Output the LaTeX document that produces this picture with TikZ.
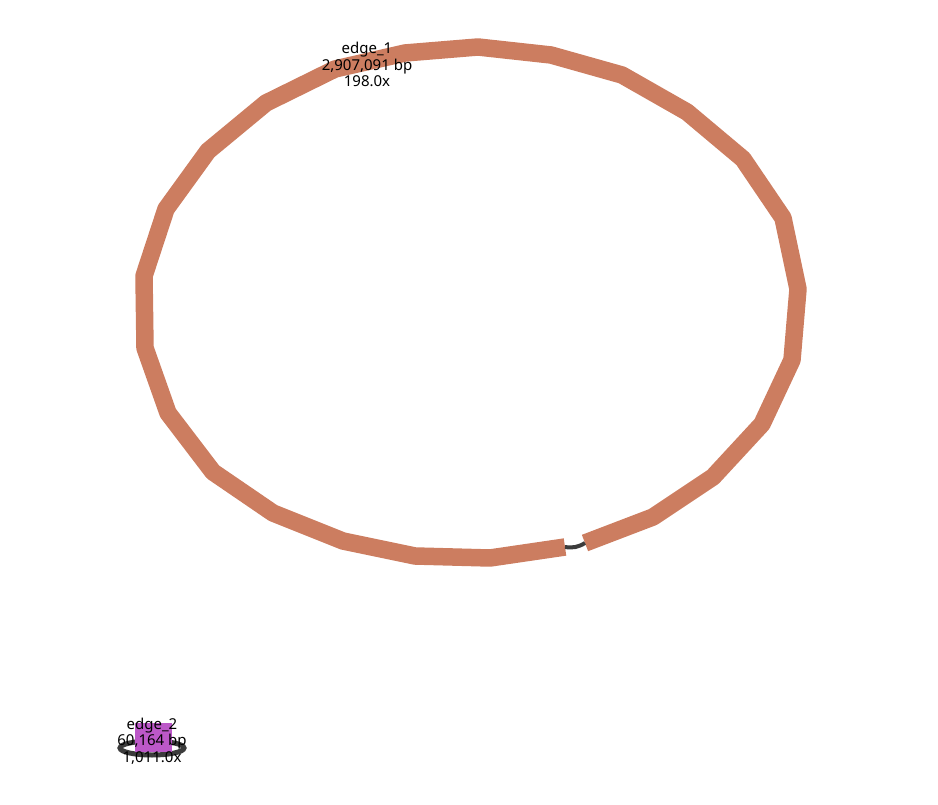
\documentclass[tikz,border=0pt]{standalone}
\usepackage{fontspec}
\setmainfont{Noto Sans}
\definecolor{edgeone}{RGB}{204,125,96}
\definecolor{edgetwo}{RGB}{188,88,200}
\definecolor{conn}{RGB}{60,60,60}
\begin{document}
\begin{tikzpicture}[x=1pt,y=-1pt,
  contig/.style={line width=17.5pt,draw=edgeone,line join=bevel,line cap=butt},
  link/.style={line width=4pt,draw=conn},
  lbl/.style={font=\fontsize{15}{16.5}\selectfont,align=center,inner sep=0pt}]
\useasboundingbox (0,0) rectangle (938,805);
\coordinate (e1out) at (565,547);
\coordinate (e1in) at (585,543);
\draw[contig] (e1out) -- (490,558) -- (415,556) -- (343,541) -- (273,513) -- (213,472) -- (168,413) -- (145,348) -- (144,276) -- (166,209) -- (208,151) -- (266,103) -- (335,69) -- (405,53) -- (478,47) -- (551,55) -- (622,75) -- (687,112) -- (743,159) -- (783,218) -- (798,289) -- (792,360) -- (762,424) -- (713,477) -- (653,517) -- (e1in);
\draw[link] (e1out) to[bend right=20] (e1in);
\node[lbl] (l1) at (367,64.5) {edge\_1\\2,907,091 bp\\198.0x};
% edge_2 loop
\draw[link,line width=5pt] (152,748) ellipse [x radius=32, y radius=7];
\fill[edgetwo] (135,723) rectangle (172,752);
\coordinate (e2) at (152,738);
\node[lbl] (l2) at (152,741) {edge\_2\\60,164 bp\\1,011.0x};
\end{tikzpicture}
\end{document}
